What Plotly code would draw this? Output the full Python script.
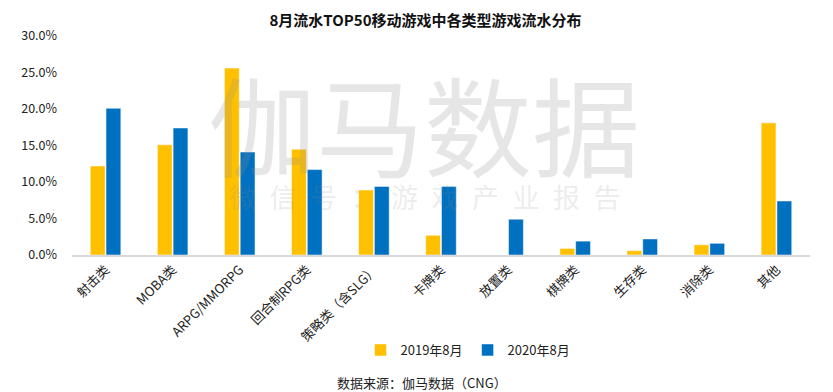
import plotly.graph_objects as go

categories = ["射击类", "MOBA类", "ARPG/MMORPG", "回合制RPG类", "策略类（含SLG）",
              "卡牌类", "放置类", "棋牌类", "生存类", "消除类", "其他"]
values_2019 = [0.122, 0.151, 0.256, 0.145, 0.089, 0.027, 0.0, 0.009, 0.006, 0.014, 0.181]
values_2020 = [0.201, 0.174, 0.141, 0.117, 0.094, 0.094, 0.049, 0.019, 0.022, 0.016, 0.074]
series_names = ["2019年8月", "2020年8月"]
y_ticks = [0, 0.05, 0.10, 0.15, 0.20, 0.25, 0.30]

FONT = "Noto Sans CJK SC"

fig = go.Figure()
fig.add_trace(go.Bar(x=categories, y=values_2019, name=series_names[0],
                     marker=dict(color="#FFC000", line=dict(color="white", width=0.5))))
fig.add_trace(go.Bar(x=categories, y=values_2020, name=series_names[1],
                     marker=dict(color="#0070C0", line=dict(color="white", width=0.5))))

W, H = 833, 392
L, R, T, B = 72, 833 - 810, 36, 392 - 255
ph = H - T - B
pw = W - L - R

fig.update_layout(
    width=W, height=H,
    margin=dict(l=L, r=R, t=T, b=B, autoexpand=False),
    paper_bgcolor="white", plot_bgcolor="white",
    barmode="group", bargap=0.53, bargroupgap=0.06,
    font=dict(family=FONT, size=13, color="#222"),
    title=dict(text="<b>8月流水TOP50移动游戏中各类型游戏流水分布</b>",
               x=425.5 / W, xanchor="center", y=1 - 21 / H, yanchor="middle",
               font=dict(size=15, color="#111", family=FONT)),
    showlegend=True,
    legend=dict(orientation="h", x=(468 - L) / pw, xanchor="center",
                y=(255 - 350) / ph, yanchor="middle",
                font=dict(size=13, color="#222"), itemwidth=30,
                tracegroupgap=0, bgcolor="rgba(0,0,0,0)"),
    xaxis=dict(tickangle=-45, showline=True, linecolor="#d9d9d9", linewidth=2,
               ticks="", tickfont=dict(size=13, color="#222"), showgrid=False,
               fixedrange=True, automargin=False),
    yaxis=dict(range=[0, 0.30], tickvals=y_ticks, tickformat=".1%", showgrid=False,
               zeroline=False, showline=False, ticks="", ticklabelstandoff=14,
               tickfont=dict(size=12.5, color="#222"), fixedrange=True, automargin=False),
)

# watermark
fig.add_annotation(text="伽马数据", xref="paper", yref="paper",
                   x=(424 - L) / pw, y=(255 - 122) / ph, showarrow=False,
                   font=dict(size=108, color="rgba(140,140,140,0.22)", family=FONT),
                   xanchor="center", yanchor="middle")
fig.add_annotation(text="\u2002".join("微信号：游戏产业报告"), xref="paper", yref="paper",
                   x=(425 - L) / pw, y=(255 - 196) / ph, showarrow=False,
                   font=dict(size=27, color="rgba(140,140,140,0.18)", family=FONT),
                   xanchor="center", yanchor="middle")

# source
fig.add_annotation(text="数据来源：伽马数据（CNG）", xref="paper", yref="paper",
                   x=(422 - L) / pw, y=(255 - 382) / ph, showarrow=False,
                   font=dict(size=13, color="#222", family=FONT),
                   xanchor="center", yanchor="middle")

fig.write_html("out.html", config={"displayModeBar": False},
               post_script="document.body.style.margin='0';")
